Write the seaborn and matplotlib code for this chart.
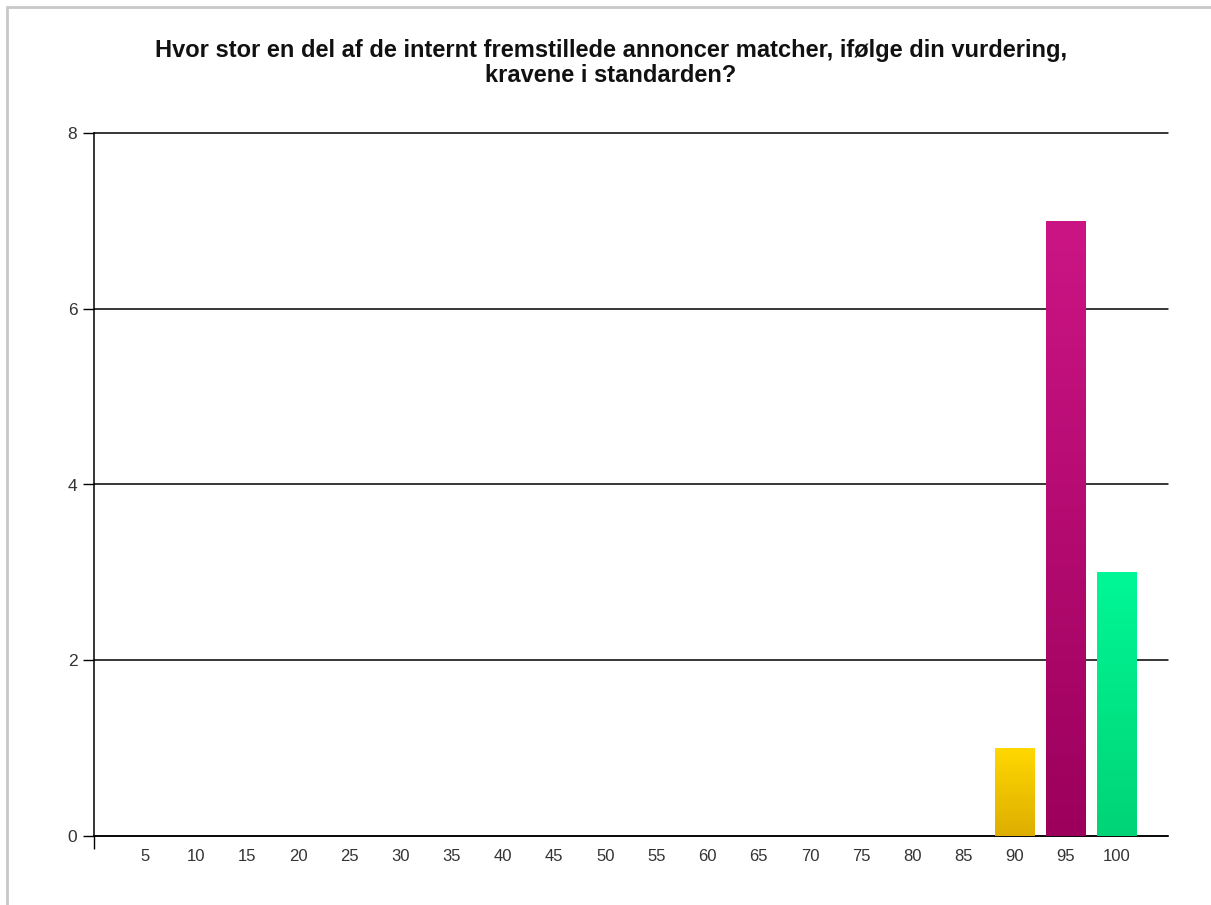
import numpy as np
import pandas as pd
import matplotlib
matplotlib.use("Agg")
import matplotlib.pyplot as plt
import seaborn as sns
from matplotlib.patches import Rectangle
from matplotlib.colors import LinearSegmentedColormap

categories = ["5", "10", "15", "20", "25", "30", "35", "40", "45", "50",
              "55", "60", "65", "70", "75", "80", "85", "90", "95", "100"]
counts = [0, 0, 0, 0, 0, 0, 0, 0, 0, 0, 0, 0, 0, 0, 0, 0, 0, 1, 7, 3]
top_colors = {"90": "#FFD800", "95": "#CC1585", "100": "#00F796"}
bottom_colors = {"90": "#DDAE00", "95": "#9C005C", "100": "#00D476"}
title = "Hvor stor en del af de internt fremstillede annoncer matcher, ifølge din vurdering,\nkravene i standarden?"

sns.set_theme(style="white")
plt.rcParams["font.family"] = ["Liberation Sans", "DejaVu Sans"]

df = pd.DataFrame({"cat": categories, "count": counts})

fig = plt.figure(figsize=(12.11, 9.05), dpi=100)
fig.patch.set_facecolor("white")
# outer light border
fig.add_artist(Rectangle((7 / 1211, -0.01), 1.1, 1 - 7 / 905 + 0.01,
                         transform=fig.transFigure, fill=False,
                         edgecolor="#c8c8c8", linewidth=2))

ax = fig.add_axes([94 / 1211, 1 - 836 / 905, (1168 - 94) / 1211, (836 - 133) / 905])
palette = {c: top_colors.get(c, "#cccccc") for c in categories}
sns.barplot(data=df, x="cat", y="count", hue="cat", palette=palette,
            order=categories, width=0.77, legend=False, ax=ax,
            edgecolor="none", linewidth=0, zorder=3)

# gradient fill of bars
for patch, cat in zip(ax.patches, categories):
    h = patch.get_height()
    if h <= 0:
        continue
    x0 = patch.get_x()
    w = patch.get_width()
    cmap = LinearSegmentedColormap.from_list("g", [bottom_colors[cat], top_colors[cat]])
    grad = np.linspace(0, 1, 256).reshape(-1, 1)
    im = ax.imshow(grad, cmap=cmap, origin="lower", aspect="auto",
                   extent=(x0, x0 + w, 0, h), zorder=4)
    im.set_clip_path(patch)
ax.set_xlim(-1, 20)
ax.set_ylim(0, 8)

# gridlines
ax.set_yticks([0, 2, 4, 6, 8])
ax.yaxis.grid(True, color="black", linewidth=1.1)
for gl in ax.get_ygridlines():
    gl.set_clip_on(False)
ax.set_axisbelow(True)
ax.tick_params(axis="y", which="major", direction="out", length=8, width=1,
               color="black", labelsize=12.5, labelcolor="#333333", pad=4, left=True)

# x ticks: labels at each category without marks, marks every 5 positions
ax.set_xticks(np.arange(len(categories)))
ax.set_xticklabels(categories)
ax.tick_params(axis="x", which="major", length=0, labelsize=12, labelcolor="#333333", pad=9)
ax.set_xticks([-1, 4, 9, 14, 19], minor=True)
ax.tick_params(axis="x", which="minor", direction="out", length=9, width=1, color="black", bottom=True)

for s in ["top", "right"]:
    ax.spines[s].set_visible(False)
for s in ["left", "bottom"]:
    ax.spines[s].set_color("black")
    ax.spines[s].set_linewidth(1.1)

ax.set_xlabel("")
ax.set_ylabel("")

fig.text(611 / 1211, 1 - 39 / 905, title, ha="center", va="top",
         fontsize=17, fontweight="bold", color="#111111", linespacing=1.12)

fig.savefig("out.png", dpi=100)
